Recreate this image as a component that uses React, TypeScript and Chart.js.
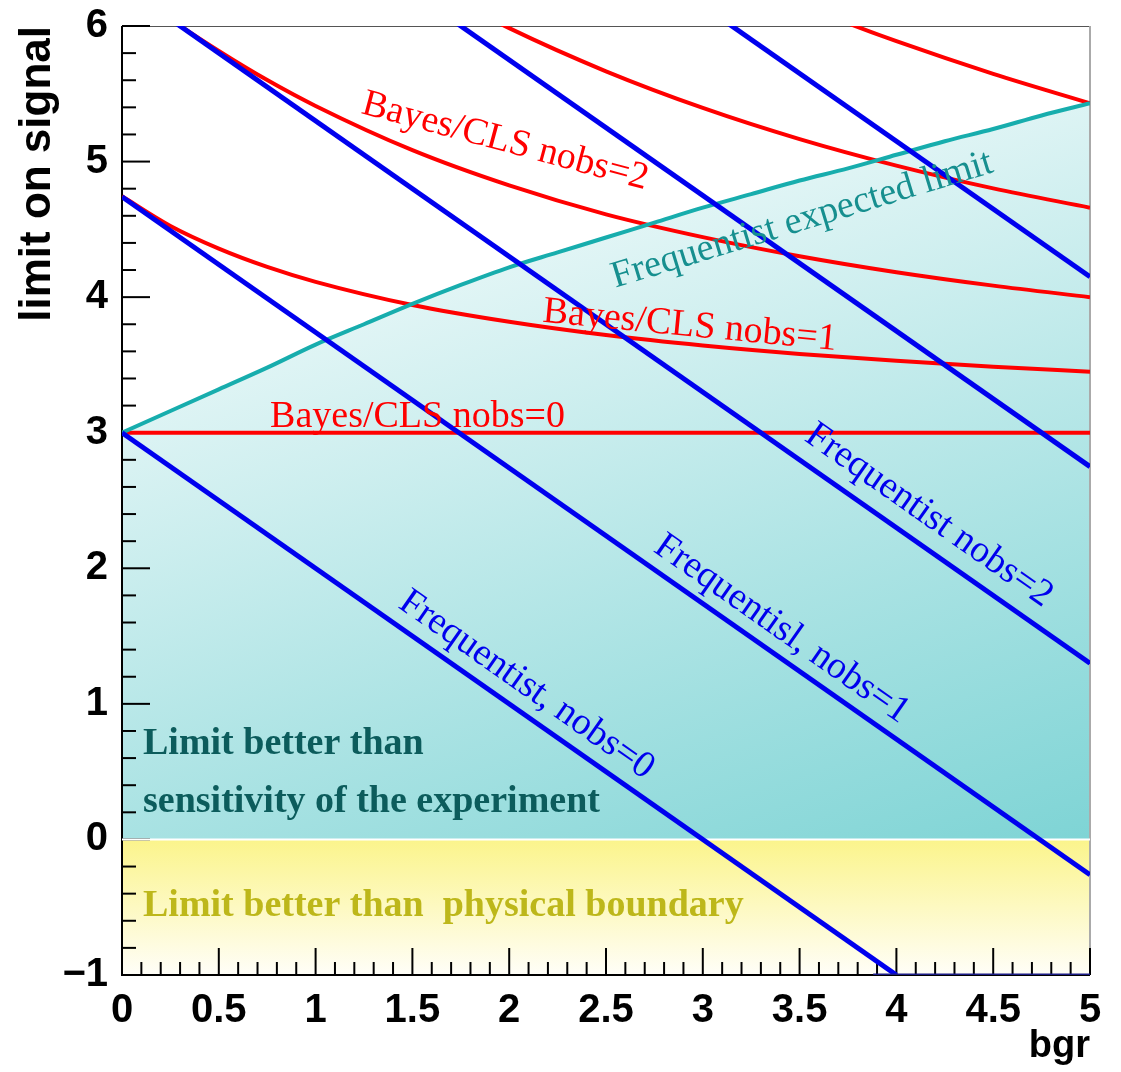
import React, { useEffect, useRef } from 'react';
import { Chart, registerables } from 'chart.js';

Chart.register(...registerables);

// ---------------- data ----------------
const xTickValues = [0, 0.5, 1, 1.5, 2, 2.5, 3, 3.5, 4, 4.5, 5];
const yTickValues = [-1, 0, 1, 2, 3, 4, 5, 6];

// Bayes / CLs upper limits
const bgrBayes0 = [0, 5];
const bayesNobs0 = [3.0, 3.0];
const bgrBayes12 = [0, 0.25, 0.5, 0.75, 1, 1.5, 2, 2.5, 3, 3.5, 4, 4.5, 5];
const bayesNobs1 = [4.744, 4.525, 4.358, 4.223, 4.113, 3.942, 3.818, 3.72, 3.643, 3.581, 3.53, 3.487, 3.45];
const bayesNobs2 = [6.296, 6.049, 5.816, 5.601, 5.41, 5.084, 4.824, 4.611, 4.443, 4.302, 4.184, 4.085, 4.0];
const bgrBayes3 = [1.5, 2, 2.5, 3, 3.5, 4, 4.5, 5];
const bayesNobs3 = [6.355, 5.984, 5.666, 5.396, 5.166, 4.97, 4.802, 4.66];
const bgrBayes4 = [3.5, 3.75, 4, 4.5, 5];
const bayesNobs4 = [6.165, 6.02, 5.888, 5.647, 5.43];

// Frequentist expected limit
const bgrExpected = [0, 0.25, 0.5, 0.75, 1, 1.25, 1.5, 1.75, 2, 2.25, 2.5, 2.75, 3, 3.25, 3.5, 3.75, 4, 4.25, 4.5, 4.75, 5];
const expectedLimit = [3.0, 3.16, 3.32, 3.48, 3.65, 3.8, 3.95, 4.09, 4.22, 4.33, 4.44, 4.55, 4.66, 4.76, 4.86, 4.95, 5.05, 5.15, 5.24, 5.34, 5.43];

// Frequentist (classical) limits
const bgrFreq0 = [0, 4];
const freqNobs0 = [3.0, -1.0];
const bgrFreq = [0, 5];
const freqNobs1 = [4.74, -0.26];
const freqNobs2 = [6.3, 1.3];
const freqNobs3 = [7.75, 2.75];
const freqNobs4 = [9.15, 4.15];
const bgrFreqFloor = [3.88, 5];
const freqFloor = [-1.0, -1.0];

// physical boundary band
const bgrBoundary = [0, 5];
const boundaryTop = [0, 0];

// text labels (data coordinates, angle in degrees)
const lineLabels = [
  { text: 'Bayes/CLS nobs=0', x: 0.765, y: 3.044, angle: 0, color: '#ff0000', size: 38, bold: false },
  { text: 'Bayes/CLS nobs=1', x: 2.17, y: 3.818, angle: 5.5, color: '#ff0000', size: 38, bold: false },
  { text: 'Bayes/CLS nobs=2', x: 1.23, y: 5.358, angle: 15, color: '#ff0000', size: 38, bold: false },
  { text: 'Frequentist expected limit', x: 2.548, y: 4.069, angle: -17, color: '#168f8f', size: 38, bold: false },
  { text: 'Frequentist nobs=2', x: 3.519, y: 2.948, angle: 35, color: '#0000ee', size: 38, bold: false },
  { text: 'Frequentisl, nobs=1', x: 2.739, y: 2.13, angle: 35, color: '#0000ee', size: 38, bold: false },
  { text: 'Frequentist, nobs=0', x: 1.421, y: 1.717, angle: 35, color: '#0000ee', size: 38, bold: false },
  { text: 'Limit better than', x: 0.1085, y: 0.6265, angle: 0, color: '#0c5c5c', size: 38, bold: true },
  { text: 'sensitivity of the experiment', x: 0.1085, y: 0.199, angle: 0, color: '#0c5c5c', size: 38, bold: true },
  { text: 'Limit better than  physical boundary', x: 0.1085, y: -0.5676, angle: 0, color: '#bdb71a', size: 38, bold: true },
];

const pts = (xs: number[], ys: number[]) => xs.map((x, i) => ({ x, y: ys[i] }));

const SANS = '"Liberation Sans", Arial, Helvetica, sans-serif';
const SERIF = '"Liberation Serif", "Times New Roman", serif';

const framePlugin = {
  id: 'rootFrame',
  beforeDatasetsDraw(chart: any) {
    const { ctx, chartArea: a, scales } = chart;
    const x = scales.x;
    const y = scales.y;
    const seg = (x1: number, y1: number, x2: number, y2: number) => {
      ctx.beginPath();
      ctx.moveTo(x1, y1);
      ctx.lineTo(x2, y2);
      ctx.stroke();
    };
    ctx.save();
    ctx.lineCap = 'butt';
    ctx.strokeStyle = '#555555';
    ctx.lineWidth = 1;
    seg(a.left, a.top + 0.5, a.right, a.top + 0.5);
    ctx.strokeStyle = '#aaaaaa';
    ctx.lineWidth = 2;
    seg(a.right, a.top, a.right, a.bottom);
    ctx.strokeStyle = '#000000';
    ctx.lineWidth = 2;
    seg(a.left, a.top, a.left, a.bottom + 1);
    seg(a.left - 1, a.bottom, a.right, a.bottom);
    const ny = Math.round((y.max - y.min) / 0.2);
    for (let i = 0; i <= ny; i++) {
      const p = y.getPixelForValue(y.min + i * 0.2);
      seg(a.left, p, a.left + (i % 5 === 0 ? 28 : 14), p);
    }
    const nx = Math.round((x.max - x.min) / 0.1);
    for (let i = 0; i <= nx; i++) {
      const p = x.getPixelForValue(x.min + i * 0.1);
      seg(p, a.bottom, p, a.bottom - (i % 5 === 0 ? 27 : 13));
    }
    ctx.restore();
  },
};

const labelPlugin = {
  id: 'lineLabels',
  afterDatasetsDraw(chart: any) {
    const { ctx, scales } = chart;
    for (const l of lineLabels) {
      const px = scales.x.getPixelForValue(l.x);
      const py = scales.y.getPixelForValue(l.y);
      ctx.save();
      ctx.translate(px, py);
      ctx.rotate((l.angle * Math.PI) / 180);
      ctx.font = `${l.bold ? 'bold ' : ''}${l.size}px ${SERIF}`;
      ctx.fillStyle = l.color;
      ctx.textAlign = 'left';
      ctx.textBaseline = 'alphabetic';
      ctx.fillText(l.text, 0, 0);
      ctx.restore();
    }
  },
};

const tealGradient = (context: any) => {
  const chart = context.chart;
  const a = chart.chartArea;
  if (!a) return 'rgba(0,0,0,0)';
  const g = chart.ctx.createLinearGradient(a.left - 60, a.top + 156, a.left + 247, a.top + 1060);
  g.addColorStop(0, '#ffffff');
  g.addColorStop(1, '#7ed4d5');
  return g;
};

const yellowGradient = (context: any) => {
  const chart = context.chart;
  const a = chart.chartArea;
  if (!a) return 'rgba(0,0,0,0)';
  const y0 = chart.scales.y.getPixelForValue(0);
  const g = chart.ctx.createLinearGradient(0, y0, 0, a.bottom);
  g.addColorStop(0, '#fbf48b');
  g.addColorStop(1, '#fffef8');
  return g;
};

export default function App() {
  const ref = useRef<HTMLCanvasElement>(null);

  useEffect(() => {
    if (!ref.current) return;
    const red = { borderColor: '#ff0000', borderWidth: 4, pointRadius: 0, fill: false, cubicInterpolationMode: 'monotone', order: 30 };
    const blue = { borderColor: '#0000ee', borderWidth: 5, pointRadius: 0, fill: false, order: 10 };
    const chart = new Chart(ref.current, {
      type: 'line',
      data: {
        datasets: [
          { label: 'boundary', data: pts(bgrBoundary, boundaryTop), fill: { value: -1 }, backgroundColor: yellowGradient, borderColor: '#ffffff', borderWidth: 2, pointRadius: 0, order: 100 },
          { label: 'expected fill', data: pts(bgrExpected, expectedLimit), fill: { value: 0 }, backgroundColor: tealGradient, borderColor: 'rgba(0,0,0,0)', borderWidth: 0, pointRadius: 0, cubicInterpolationMode: 'monotone', order: 99 },
          { label: 'Bayes nobs=0', data: pts(bgrBayes0, bayesNobs0), ...red },
          { label: 'Bayes nobs=1', data: pts(bgrBayes12, bayesNobs1), ...red },
          { label: 'Bayes nobs=2', data: pts(bgrBayes12, bayesNobs2), ...red },
          { label: 'Bayes nobs=3', data: pts(bgrBayes3, bayesNobs3), ...red },
          { label: 'Bayes nobs=4', data: pts(bgrBayes4, bayesNobs4), ...red },
          { label: 'Frequentist expected limit', data: pts(bgrExpected, expectedLimit), borderColor: '#17adad', borderWidth: 4, pointRadius: 0, fill: false, cubicInterpolationMode: 'monotone', order: 20 },
          { label: 'Frequentist nobs=0', data: pts(bgrFreq0, freqNobs0), ...blue },
          { label: 'Frequentist nobs=1', data: pts(bgrFreq, freqNobs1), ...blue },
          { label: 'Frequentist nobs=2', data: pts(bgrFreq, freqNobs2), ...blue },
          { label: 'Frequentist nobs=3', data: pts(bgrFreq, freqNobs3), ...blue },
          { label: 'Frequentist nobs=4', data: pts(bgrFreq, freqNobs4), ...blue },
          { label: 'Frequentist floor', data: pts(bgrFreqFloor, freqFloor), borderColor: '#1c1c86', borderWidth: 3, pointRadius: 0, fill: false, order: 5 },
        ] as any,
      },
      options: {
        responsive: false,
        maintainAspectRatio: false,
        animation: false,
        events: [],
        layout: { padding: { left: 0, top: 26, right: 31, bottom: 0 } },
        plugins: {
          legend: { display: false },
          tooltip: { enabled: false },
          filler: { drawTime: 'beforeDatasetsDraw' },
        },
        scales: {
          x: {
            type: 'linear',
            min: 0,
            max: 5,
            grid: { display: false },
            border: { display: false },
            afterBuildTicks: (s: any) => {
              s.ticks = xTickValues.map((v) => ({ value: v }));
            },
            afterFit: (s: any) => {
              s.height = 97;
            },
            ticks: {
              color: '#000000',
              autoSkip: false,
              minRotation: 0,
              maxRotation: 0,
              padding: 8,
              font: { family: SANS, size: 40, weight: 'bold', lineHeight: 1 },
              callback: (v: any) => String(Number(v)),
            },
            title: {
              display: true,
              text: 'bgr',
              align: 'end',
              color: '#000000',
              font: { family: SANS, size: 38, weight: 'bold', lineHeight: 1 },
              padding: { top: 0, bottom: 6 },
            },
          },
          y: {
            type: 'linear',
            min: -1,
            max: 6,
            grid: { display: false },
            border: { display: false },
            afterBuildTicks: (s: any) => {
              s.ticks = yTickValues.map((v) => ({ value: v }));
            },
            afterFit: (s: any) => {
              s.width = 122;
            },
            ticks: {
              color: '#000000',
              autoSkip: false,
              padding: 6,
              font: { family: SANS, size: 40, weight: 'bold', lineHeight: 1 },
              callback: (v: any) => (Number(v) < 0 ? '\u2212' + String(-Number(v)) : String(Number(v))),
            },
            title: {
              display: true,
              text: 'limit on signal',
              align: 'end',
              color: '#000000',
              font: { family: SANS, size: 44, weight: 'bold', lineHeight: 1 },
              padding: { top: 16, bottom: 0 },
            },
          },
        },
      } as any,
      plugins: [framePlugin, labelPlugin],
    });
    return () => chart.destroy();
  }, []);

  return (
    <div style={{ position: 'absolute', left: 0, top: 0, width: 1121, height: 1072, background: '#ffffff' }}>
      <canvas ref={ref} width={1121} height={1072} style={{ display: 'block', width: 1121, height: 1072 }} />
    </div>
  );
}
